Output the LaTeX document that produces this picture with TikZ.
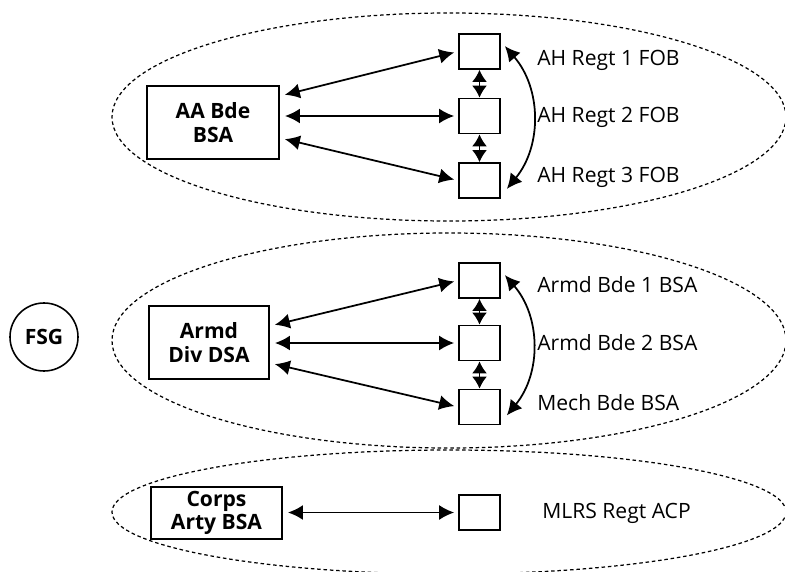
\documentclass[tikz,border=0pt]{standalone}
\usepackage{fontspec}
\setmainfont{Open Sans}
\usepackage{tikz}
\usetikzlibrary{shapes.geometric, arrows.meta}
\tikzstyle{group} = [ellipse, draw=black, dash pattern=on 2pt off 1.6pt, line width=0.7pt, inner sep=0pt, minimum width=13.48cm]
\tikzstyle{unit} = [rectangle, minimum width=2.64cm, minimum height=1.46cm, text centered, align=center, draw=black, line width=1.1pt, font=\fontsize{12}{13.5}\selectfont\bfseries, inner sep=0pt]
\tikzstyle{post} = [rectangle, minimum width=0.82cm, minimum height=0.7cm, draw=black, line width=1pt, inner sep=0pt]
\tikzstyle{postname} = [anchor=west, font=\fontsize{12}{13.5}\selectfont, inner sep=0pt]
\tikzstyle{arrow} = [line width=1pt, {Latex[length=3mm,width=3mm]}-{Latex[length=3mm,width=3mm]}]
\tikzstyle{link} = [line width=1pt, {Latex[length=2.4mm,width=3mm]}-{Latex[length=2.4mm,width=3mm]}]
\tikzstyle{feed} = [arrow, shorten <=1mm, shorten >=0.8mm]

\begin{document}
\begin{tikzpicture}[x=0.2mm, y=-0.2mm]
    \useasboundingbox (0,0) rectangle (785,571);
    \node (ahgroup) [group, minimum height=4.16cm] at (449,117) {};
    \node (armdgroup) [group, minimum height=4.3cm] at (449,340.5) {};
    \node (mlrsgroup) [group, minimum height=2.48cm] at (449,512) {};

    \node (fsg) [circle, draw=black, line width=0.9pt, minimum size=1.36cm, font=\fontsize{12}{13.5}\selectfont\bfseries] at (44,337) {FSG};

    \node (aabde) [unit] at (213,122.5) {AA Bde\\BSA};
    \node (ah1) [post] at (479.5,51.5) {};
    \node (ah2) [post] at (479.5,116) {};
    \node (ah3) [post] at (479.5,180.5) {};
    \node (ah1name) [postname] at (537,60) {AH Regt 1 FOB};
    \node (ah2name) [postname] at (537,117) {AH Regt 2 FOB};
    \node (ah3name) [postname] at (537,177) {AH Regt 3 FOB};

    \node (armddiv) [unit, minimum width=2.4cm] at (209,342.5) {Armd\\Div DSA};
    \node (armd1) [post] at (479.5,280.5) {};
    \node (armd2) [post] at (479.5,343) {};
    \node (mech) [post] at (479.5,407) {};
    \node (armd1name) [postname] at (537,285) {Armd Bde 1 BSA};
    \node (armd2name) [postname] at (537,343) {Armd Bde 2 BSA};
    \node (mechname) [postname] at (537,403) {Mech Bde BSA};

    \node (corps) [unit, minimum width=2.62cm, minimum height=1.04cm] at (216.5,513) {Corps\\Arty BSA};
    \node (mlrs) [post] at (479.5,512.5) {};
    \node (mlrsname) [postname] at (542,513) {MLRS Regt ACP};

    \draw [feed] ([shift={(0,-20)}]aabde.east |- ah2.west) -- (ah1.west);
    \draw [feed] (aabde.east |- ah2.west) -- (ah2.west);
    \draw [feed] ([shift={(0,22)}]aabde.east |- ah2.west) -- (ah3.west);
    \draw [link] (ah1) -- (ah2);
    \draw [link] (ah2) -- (ah3);
    \draw [arrow] ([shift={(4,13)}]ah1.north east) to[bend left=40] ([shift={(6,-10)}]ah3.south east);

    \draw [feed] ([shift={(0,-17)}]armddiv.east |- armd2.west) -- (armd1.west);
    \draw [feed] (armddiv.east |- armd2.west) -- (armd2.west);
    \draw [feed] ([shift={(0,20)}]armddiv.east |- armd2.west) -- (mech.west);
    \draw [link] (armd1) -- (armd2);
    \draw [link] (armd2) -- (mech);
    \draw [arrow] ([shift={(4,13)}]armd1.north east) to[bend left=40] ([shift={(6,-10)}]mech.south east);

    \draw [feed] (corps.east |- mlrs.west) -- (mlrs.west);
\end{tikzpicture}
\end{document}
